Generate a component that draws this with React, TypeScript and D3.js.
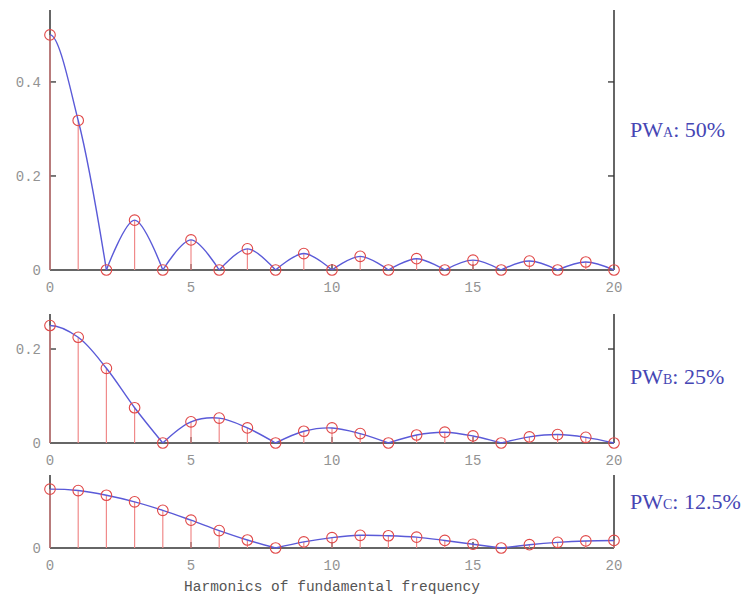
import React from "react";
import * as d3 from "d3";

// harmonic index 0..20
const harmonics = [0, 1, 2, 3, 4, 5, 6, 7, 8, 9, 10, 11, 12, 13, 14, 15, 16, 17, 18, 19, 20];

// amplitude
const pwA = [0.5, 0.318, 0, 0.106, 0, 0.064, 0, 0.045, 0, 0.035, 0, 0.029, 0, 0.024, 0, 0.021, 0, 0.019, 0, 0.017, 0];
const pwB = [0.25, 0.225, 0.159, 0.075, 0, 0.045, 0.053, 0.032, 0, 0.025, 0.032, 0.02, 0, 0.017, 0.023, 0.015, 0, 0.013, 0.018, 0.012, 0];
const pwC = [0.125, 0.122, 0.112, 0.098, 0.08, 0.059, 0.037, 0.017, 0, 0.013, 0.022, 0.027, 0.026, 0.023, 0.016, 0.008, 0, 0.007, 0.012, 0.015, 0.016];

const xTicks = [0, 5, 10, 15, 20];

const panels = [
  { values: pwA, top: 10, bottom: 270, yMax: 0.553, yTicks: [0, 0.2, 0.4], sub: "A", pct: ": 50%", labelY: 137 },
  { values: pwB, top: 314, bottom: 443, yMax: 0.2745, yTicks: [0, 0.2], sub: "B", pct: ": 25%", labelY: 384 },
  { values: pwC, top: 475, bottom: 548, yMax: 0.155, yTicks: [0], sub: "C", pct: ": 12.5%", labelY: 509 },
];

const left = 50;
const right = 614;
const axisColor = "#333";
const stemColor = "#f08a8a";
const markColor = "#e04848";
const lineColor = "#5a5ad8";
const mono = "'Liberation Mono', 'DejaVu Sans Mono', monospace";

const x = d3.scaleLinear().domain([0, 20]).range([left, right]);

// split the spectrum into lobes between zeros so the curve has cusps there
function lobes(vals: number[]) {
  const pts = harmonics.map((h, i) => [h, vals[i]] as [number, number]);
  const segs: [number, number][][] = [];
  let cur: [number, number][] = [];
  pts.forEach((p, i) => {
    cur.push(p);
    if (p[1] === 0 && i > 0) {
      segs.push(cur);
      cur = [p];
    }
  });
  if (cur.length > 1) segs.push(cur);
  // mirror the first lobe about 0 so it starts flat
  if (segs.length && segs[0][0][1] !== 0) {
    const first = segs[0];
    const mirror = first.slice(1, 3).map((p) => [-p[0], p[1]] as [number, number]).reverse();
    segs[0] = [...mirror, ...first];
  }
  return segs;
}

function Panel({ p, idx }: { p: (typeof panels)[number]; idx: number }) {
  const y = d3.scaleLinear().domain([0, p.yMax]).range([p.bottom, p.top]);
  const line = d3
    .line<[number, number]>()
    .x((d) => x(d[0]))
    .y((d) => y(d[1]))
    .curve(d3.curveCatmullRom);
  const clipId = `clip${idx}`;
  return (
    <g>
      <clipPath id={clipId}>
        <rect x={left} y={p.top - 10} width={right - left + 10} height={p.bottom - p.top + 20} />
      </clipPath>
      {/* axes */}
      <line x1={left} x2={left} y1={p.top} y2={p.bottom} stroke={axisColor} strokeWidth={1.5} />
      <line x1={right} x2={right} y1={p.top} y2={p.bottom} stroke={axisColor} strokeWidth={1.5} />
      <line x1={left} x2={right} y1={p.bottom} y2={p.bottom} stroke={axisColor} strokeWidth={1.5} />
      {p.yTicks.filter((t) => t > 0).map((t) => (
        <g key={t}>
          <line x1={left} x2={left + 6} y1={y(t)} y2={y(t)} stroke={axisColor} strokeWidth={1.3} />
          <line x1={right - 6} x2={right} y1={y(t)} y2={y(t)} stroke={axisColor} strokeWidth={1.3} />
        </g>
      ))}
      {xTicks.slice(1, -1).map((t) => (
        <line key={t} x1={x(t)} x2={x(t)} y1={p.bottom} y2={p.bottom - 6} stroke={axisColor} strokeWidth={1.3} />
      ))}
      {/* tick labels */}
      {p.yTicks.map((t) => (
        <text key={t} x={41} y={y(t)} dy="0.35em" textAnchor="end" fontFamily={mono} fontSize={14} fill="#939393">
          {t === 0 ? "0" : t.toFixed(1)}
        </text>
      ))}
      {xTicks.map((t) => (
        <text key={t} x={x(t)} y={p.bottom + 22} textAnchor="middle" fontFamily={mono} fontSize={14} fill="#939393">
          {t}
        </text>
      ))}
      {/* stems */}
      {harmonics.map((h, i) => (
        <line key={h} x1={x(h)} x2={x(h)} y1={p.bottom} y2={y(p.values[i])} stroke={stemColor} strokeWidth={1.2} />
      ))}
      {/* envelope */}
      <g clipPath={`url(#${clipId})`}>
        {lobes(p.values).map((s, i) => (
          <path key={i} d={line(s) || ""} fill="none" stroke={lineColor} strokeWidth={1.4} />
        ))}
      </g>
      {harmonics.map((h, i) => (
        <circle key={h} cx={x(h)} cy={y(p.values[i])} r={5.3} fill="none" stroke={markColor} strokeWidth={1.1} />
      ))}
      {/* label */}
      <text x={630} y={p.labelY} fontFamily="'Liberation Serif', 'DejaVu Serif', serif" fontSize={22} fill="#4646b4">
        PW<tspan fontSize={14}>{p.sub}</tspan>
        {p.pct}
      </text>
    </g>
  );
}

export default function App() {
  return (
    <svg width={743} height={594} style={{ position: "absolute", left: 0, top: 0, background: "#fff" }}>
      {panels.map((p, i) => (
        <Panel key={i} p={p} idx={i} />
      ))}
      <text x={332} y={591} textAnchor="middle" fontFamily={mono} fontSize={14.5} fill="#555">
        Harmonics of fundamental frequency
      </text>
    </svg>
  );
}
